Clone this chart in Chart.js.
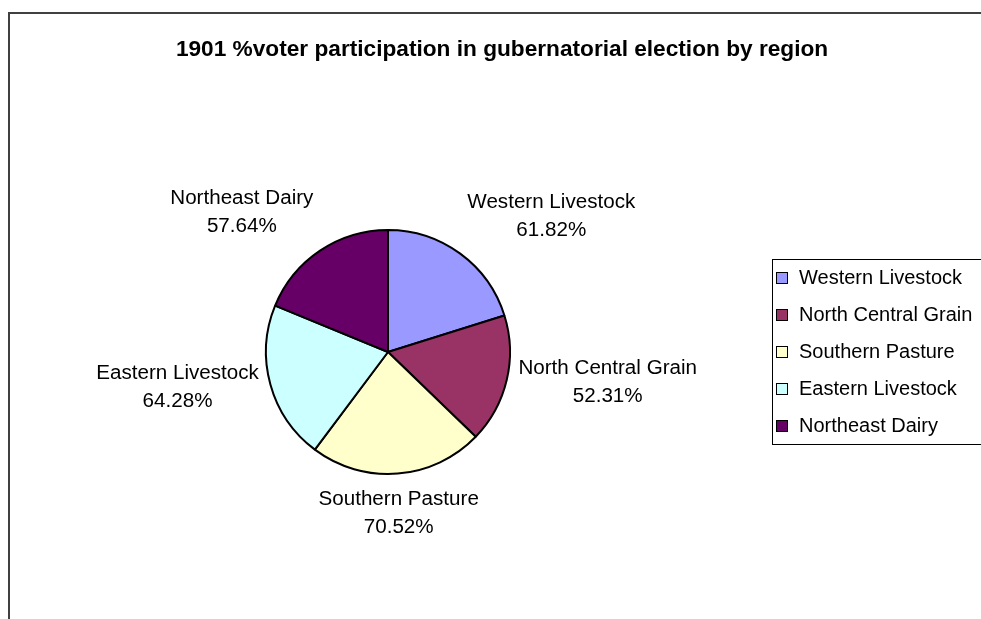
<!DOCTYPE html>
<html>
<head>
<meta charset="utf-8">
<title>1901 voter participation</title>
<script src="https://cdn.jsdelivr.net/npm/chart.js@4.4.1/dist/chart.umd.min.js"></script>
<style>
  html, body { margin: 0; padding: 0; background: #fff; }
  canvas { display: block; }
</style>
</head>
<body>
<canvas id="pie" width="981" height="619"></canvas>
<script>
// donnees
const regions = ["Western Livestock", "North Central Grain", "Southern Pasture", "Eastern Livestock", "Northeast Dairy"]
const participation = [61.82, 52.31, 70.52, 64.28, 57.64]
const sliceColors = ["#9999FF", "#993366", "#FFFFCC", "#CCFFFF", "#660066"]
const chartTitle = "1901 %voter participation in gubernatorial election by region"

const FONT = '"Liberation Sans", Arial, sans-serif'

// texte avec etirement horizontal (le graphique d'origine est un peu etire)
function drawText(ctx, txt, x, y, align, sx) {
  ctx.save()
  ctx.translate(x, y)
  ctx.scale(sx, 1)
  ctx.textAlign = align
  ctx.fillText(txt, 0, 0)
  ctx.restore()
}

const excelLook = {
  id: "excelLook",
  afterDraw(chart) {
    const ctx = chart.ctx
    const meta = chart.getDatasetMeta(0)
    const values = chart.data.datasets[0].data
    const colors = chart.data.datasets[0].backgroundColor

    // cadre
    ctx.save()
    ctx.strokeStyle = "#404040"
    ctx.lineWidth = 2
    ctx.beginPath()
    ctx.moveTo(9, chart.height)
    ctx.lineTo(9, 13)
    ctx.lineTo(chart.width, 13)
    ctx.stroke()

    // titre
    ctx.fillStyle = "#000"
    ctx.font = "bold 22px " + FONT
    ctx.textBaseline = "alphabetic"
    drawText(ctx, chartTitle, 502, 56, "center", 1.03)

    // etiquettes des parts (deux lignes centrees dans un bloc)
    ctx.font = "20px " + FONT
    ctx.textBaseline = "middle"
    const lineH = 28
    const sx = 1.03
    meta.data.forEach((arc, i) => {
      const p = arc.getProps(["x", "y", "startAngle", "endAngle", "outerRadius"], true)
      const mid = (p.startAngle + p.endAngle) / 2
      const dx = Math.cos(mid)
      const dy = Math.sin(mid)
      const r = p.outerRadius + 12
      const ax = p.x + dx * r
      const ay = p.y + dy * r
      const name = chart.data.labels[i]
      const pct = values[i].toFixed(2) + "%"
      const w = Math.max(ctx.measureText(name).width, ctx.measureText(pct).width) * sx
      let cx = ax
      if (dx > 0.3) cx = ax + w / 2
      else if (dx < -0.3) cx = ax - w / 2
      let y1
      if (dy < -0.5) y1 = ay - lineH * 1.5
      else if (dy > 0.5) y1 = ay + lineH * 0.5
      else y1 = ay - lineH * 0.5
      drawText(ctx, name, cx, y1, "center", sx)
      drawText(ctx, pct, cx, y1 + lineH, "center", sx)
    })

    // legende
    const lx = 772, ly = 259
    ctx.strokeStyle = "#000"
    ctx.lineWidth = 1
    ctx.strokeRect(lx + 0.5, ly + 0.5, 240, 185)
    ctx.font = "20px " + FONT
    chart.data.labels.forEach((lab, i) => {
      const cy = 278 + i * 37
      ctx.fillStyle = colors[i]
      ctx.fillRect(776.5, cy - 5.5, 11, 11)
      ctx.strokeRect(776.5, cy - 5.5, 11, 11)
      ctx.fillStyle = "#000"
      drawText(ctx, lab, 799, cy, "left", 1.0)
    })
    ctx.restore()
  }
}

new Chart(document.getElementById("pie"), {
  type: "pie",
  data: {
    labels: regions,
    datasets: [{
      data: participation,
      backgroundColor: sliceColors,
      borderColor: "#000",
      borderWidth: 2
    }]
  },
  options: {
    responsive: false,
    animation: false,
    devicePixelRatio: 1,
    radius: 122,
    layout: { padding: { left: 266, right: 471, top: 230, bottom: 145 } },
    plugins: {
      legend: { display: false },
      title: { display: false },
      tooltip: { enabled: false }
    }
  },
  plugins: [excelLook]
})
</script>
</body>
</html>
